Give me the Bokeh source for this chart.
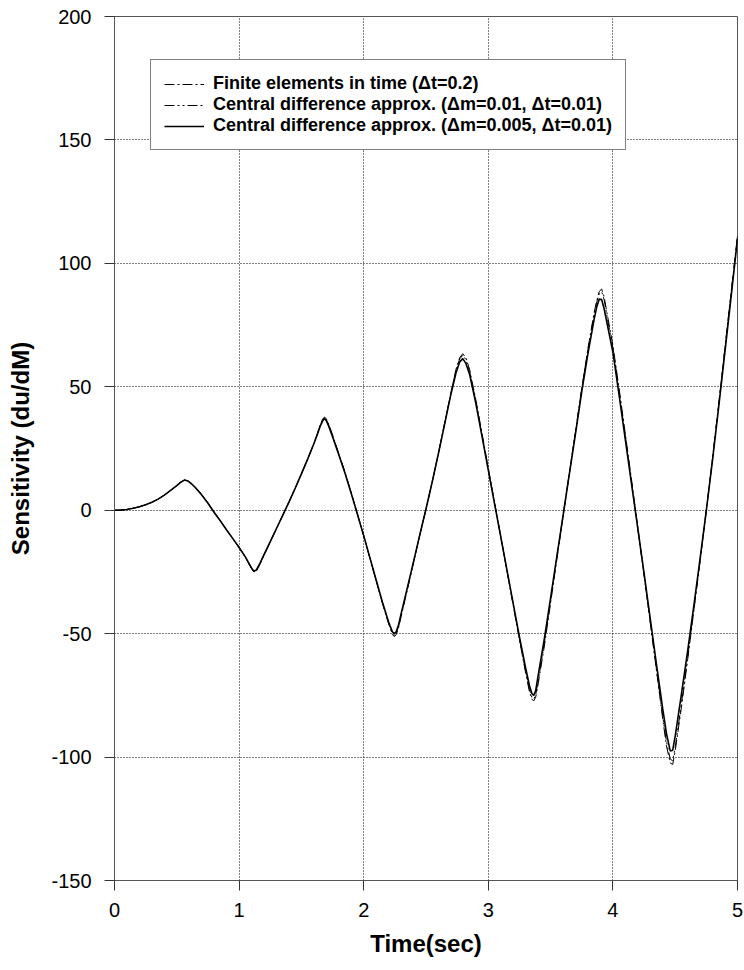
from bokeh.plotting import figure
from bokeh.models import Range1d, FixedTicker, Legend, LegendItem, PrintfTickFormatter
from bokeh.embed import file_html
from bokeh.resources import INLINE

# Shared time samples (s)
time_s = [0, 0.05, 0.1, 0.15, 0.2, 0.25, 0.3, 0.35, 0.4, 0.45, 0.5, 0.53, 0.56, 0.59, 0.62,
          0.65, 0.7, 0.75, 0.8, 0.85, 0.9, 0.95, 1.0, 1.05, 1.08, 1.1, 1.12, 1.14, 1.17, 1.2,
          1.25, 1.3, 1.35, 1.4, 1.45, 1.5, 1.55, 1.6, 1.63, 1.65, 1.67, 1.685, 1.7, 1.72, 1.75,
          1.8, 1.85, 1.9, 1.95, 2.0, 2.05, 2.1, 2.15, 2.2, 2.23, 2.245, 2.26, 2.28, 2.3, 2.35,
          2.4, 2.45, 2.5, 2.55, 2.6, 2.65, 2.7, 2.74, 2.77, 2.795, 2.82, 2.85, 2.9, 2.95, 3.0,
          3.05, 3.1, 3.15, 3.2, 3.25, 3.3, 3.33, 3.35, 3.365, 3.38, 3.4, 3.45, 3.5, 3.55, 3.6,
          3.65, 3.7, 3.75, 3.8, 3.85, 3.87, 3.89, 3.91, 3.93, 3.95, 4.0, 4.05, 4.1, 4.15, 4.2,
          4.25, 4.3, 4.35, 4.4, 4.43, 4.46, 4.48, 4.5, 4.55, 4.6, 4.65, 4.7, 4.75, 4.8, 4.85,
          4.9, 4.95, 5.0]

# Central difference approx. (dm=0.005, dt=0.01)
cd_fine = [0, 0.05, 0.3, 0.8, 1.4, 2.2, 3.2, 4.5, 6.1, 8.0, 10.0, 11.3, 12.2, 11.8, 10.6,
           9.1, 6.2, 2.8, -0.9, -4.4, -8.0, -11.5, -15.1, -18.9, -21.6, -23.4, -24.8, -24.1, -21.2, -18.0,
           -12.7, -7.4, -2.1, 3.3, 8.9, 14.7, 20.7, 26.9, 31.0, 33.9, 36.1, 37.1, 36.3, 33.9, 29.8,
           22.5, 15.0, 6.8, -1.7, -10.3, -19.3, -28.3, -37.2, -45.3, -49.2, -50.1, -49.3, -46.4, -42.0, -31.5,
           -20.8, -10.0, 0.5, 11.5, 23.0, 35.0, 47.0, 55.5, 60.0, 61.4, 59.5, 55.0, 43.3, 29.8, 16.2,
           2.7, -10.8, -24.3, -37.8, -51.3, -64.0, -71.0, -74.3, -75.0, -73.2, -67.0, -52.0, -35.5, -18.8, -2.2,
           14.5, 31.0, 48.0, 63.5, 77.5, 82.3, 85.5, 85.3, 81.5, 76.5, 64.0, 46.5, 28.5, 10.5, -7.5,
           -25.5, -44.0, -62.5, -80.5, -90.5, -97.5, -97.2, -91.5, -74.5, -57.0, -38.5, -19.5, 0.0, 20.5, 42.3,
           64.5, 87.0, 110.0]

# Central difference approx. (dm=0.01, dt=0.01)
cd_coarse = [0, 0.05, 0.3, 0.8, 1.4, 2.2, 3.2, 4.5, 6.1, 8.0, 10.0, 11.3, 12.2, 11.9, 10.7,
             9.2, 6.3, 2.9, -0.8, -4.4, -8.0, -11.5, -15.1, -19.0, -21.8, -23.6, -25.0, -24.4, -21.4, -18.1,
             -12.8, -7.4, -2.1, 3.3, 8.9, 14.7, 20.7, 27.0, 31.2, 34.3, 36.6, 37.5, 36.7, 34.3, 30.1,
             22.7, 15.2, 6.9, -1.7, -10.4, -19.4, -28.5, -37.5, -45.8, -50.0, -50.8, -50.0, -47.0, -42.5, -31.8,
             -20.9, -10.0, 0.5, 11.6, 23.2, 35.3, 47.5, 56.5, 61.3, 62.8, 61.0, 56.2, 44.0, 30.3, 16.5,
             2.8, -10.9, -24.6, -38.3, -52.0, -65.2, -72.6, -75.8, -76.5, -74.9, -69.2, -53.8, -36.4, -19.2, -2.1,
             15.0, 32.0, 49.3, 65.2, 79.5, 84.2, 87.6, 88.5, 85.2, 79.3, 65.8, 48.2, 29.8, 11.2, -7.6,
             -26.3, -45.4, -64.5, -83.5, -93.8, -100.8, -101.5, -96.0, -78.4, -59.6, -40.0, -20.2, 0.2, 21.2, 43.4,
             66.0, 88.5, 111.0]

# Finite elements in time (dt=0.2)
fe_time = [0, 0.05, 0.3, 0.8, 1.4, 2.2, 3.2, 4.5, 6.1, 8.0, 10.0, 11.3, 12.2, 12.0, 10.8,
           9.3, 6.4, 3.0, -0.7, -4.3, -8.0, -11.5, -15.1, -19.0, -21.9, -23.7, -25.1, -24.6, -21.7, -18.2,
           -12.9, -7.5, -2.1, 3.3, 8.9, 14.6, 20.6, 27.0, 31.3, 34.5, 36.9, 37.7, 37.1, 34.8, 30.6,
           23.0, 15.5, 7.1, -1.5, -10.3, -19.4, -28.6, -37.7, -46.0, -50.3, -51.2, -50.5, -47.6, -43.2, -32.3,
           -21.2, -10.2, 0.4, 11.5, 23.1, 35.4, 47.6, 57.0, 61.8, 63.4, 61.8, 57.0, 44.8, 31.0, 17.1,
           3.3, -10.5, -24.5, -38.5, -52.5, -66.0, -73.5, -76.6, -77.2, -75.8, -70.5, -55.0, -37.6, -20.0, -2.6,
           14.6, 31.8, 49.2, 65.6, 80.2, 84.8, 88.6, 89.6, 86.4, 80.6, 66.8, 49.2, 30.8, 12.2, -6.8,
           -26.0, -45.6, -65.0, -84.6, -95.5, -102.4, -103.0, -97.5, -79.8, -60.5, -40.6, -20.6, 0.0, 21.0, 43.4,
           66.2, 88.8, 111.0]

# Axis ticks
x_ticks = [0, 1, 2, 3, 4, 5]
y_ticks = [-150, -100, -50, 0, 50, 100, 150, 200]

FONT = "Liberation Sans"

p = figure(width=744, height=970, output_backend="svg", toolbar_location=None,
           x_range=Range1d(0, 5), y_range=Range1d(-150, 200),
           min_border_left=114, min_border_right=7, min_border_top=16, min_border_bottom=90)

p.background_fill_color = "white"
p.border_fill_color = "white"
p.outline_line_color = "#555555"
p.outline_line_width = 1

for ax in (p.xaxis[0], p.yaxis[0]):
    ax.axis_line_color = "#555555"
    ax.major_tick_line_color = "#333333"
    ax.major_tick_out = 10
    ax.major_tick_in = 0
    ax.minor_tick_line_color = None
    ax.major_label_text_font = FONT
    ax.major_label_text_font_size = "20px"
    ax.major_label_text_color = "black"
    ax.axis_label_text_font = FONT
    ax.axis_label_text_font_style = "bold"
    ax.axis_label_text_font_size = "24px"
    ax.axis_label_text_color = "black"
    ax.formatter = PrintfTickFormatter(format="%d")

p.xaxis.ticker = FixedTicker(ticks=x_ticks)
p.yaxis.ticker = FixedTicker(ticks=y_ticks)
p.xaxis.axis_label = "Time(sec)"
p.yaxis.axis_label = "Sensitivity (du/dM)"
p.xaxis.major_label_standoff = 12
p.yaxis.major_label_standoff = 13
p.xaxis.axis_label_standoff = 10
p.yaxis.axis_label_standoff = 14

for g in (p.xgrid[0], p.ygrid[0]):
    g.grid_line_color = "black"
    g.grid_line_dash = "1 2"
    g.grid_line_width = 1

r_fe = p.line(time_s, fe_time, line_color="black", line_width=1, line_dash="10 3 2 3")
r_cc = p.line(time_s, cd_coarse, line_color="black", line_width=1, line_dash="10 3 2 3 2 3")
r_cf = p.line(time_s, cd_fine, line_color="black", line_width=1.6)

legend = Legend(items=[
    LegendItem(label="Finite elements in time (\u0394t=0.2)", renderers=[r_fe]),
    LegendItem(label="Central difference approx. (\u0394m=0.01, \u0394t=0.01)", renderers=[r_cc]),
    LegendItem(label="Central difference approx. (\u0394m=0.005, \u0394t=0.01)", renderers=[r_cf]),
], location=(36, 730))
legend.label_text_font = FONT
legend.label_text_font_style = "bold"
legend.label_text_font_size = "18px"
legend.label_text_color = "black"
legend.label_height = 20
legend.glyph_height = 20
legend.glyph_width = 40
legend.label_standoff = 9
legend.spacing = 0
legend.padding = 13
legend.margin = 0
legend.border_line_color = "black"
legend.border_line_width = 1
legend.background_fill_color = "white"
legend.background_fill_alpha = 1
p.add_layout(legend, "center")

open("out.html", "w").write(file_html(p, INLINE))
